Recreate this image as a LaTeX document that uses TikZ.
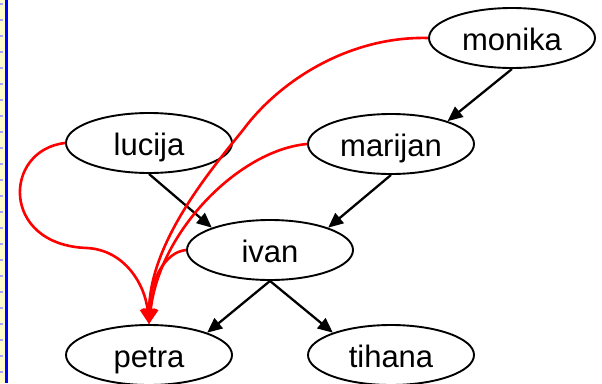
\documentclass[tikz,border=0pt]{standalone}
\usepackage{fontspec}
\setmainfont{Liberation Sans}
\usetikzlibrary{shapes.geometric,arrows.meta}
\begin{document}
\begin{tikzpicture}[x=1pt,y=-1pt,
  person/.style={ellipse,draw,line width=1.9pt,minimum width=166pt,minimum height=60pt,
    inner sep=0pt,font=\fontsize{31}{31}\selectfont,text height=24pt,text depth=0pt},
  link/.style={line width=2.3pt,-{Triangle[length=15pt,width=13pt]}},
  redlink/.style={red,line width=2.6pt,-{Triangle[length=15pt,width=15pt]}}]
\useasboundingbox (0,0) rectangle (602,383);
% margin strip on the left
\fill[yellow!20] (0,0) rectangle (5,383);
\draw[blue!35,line width=2.5pt,dash pattern=on 2pt off 14pt] (1.5,3) -- (1.5,383);
\fill[blue] (5,0) rectangle (7.5,383);

% people
\node[person] (monika)  at (512,38)  {monika};
\node[person] (lucija)  at (149,143) {lucija};
\node[person] (marijan) at (391,144) {marijan};
\node[person] (ivan)    at (270,250) {ivan};
\node[person] (petra)   at (149,355) {petra};
\node[person] (tihana)  at (391,355) {tihana};

% direct relations
\draw[link] (monika.south)  -- (marijan.22);
\draw[link] (lucija.south)  -- (ivan.159);
\draw[link] (marijan.south) -- (ivan.21);
\draw[link] (ivan.south)    -- (petra.21);
\draw[link] (ivan.south)    -- (tihana.159);

% derived relations to petra
\draw[redlink] (lucija.west) .. controls (3,150) and (0,245) .. (87,248)
  .. controls (125,250) and (145,285) .. (petra.north);
\draw[redlink] (monika.west) .. controls (350,36) and (280,80) .. (243,130)
  .. controls (215,165) and (150,240) .. (petra.north);
\draw[redlink] (marijan.west) .. controls (240,150) and (160,230) .. (petra.north);
\draw[redlink] (ivan.west) .. controls (165,252) and (150,280) .. (petra.north);
\end{tikzpicture}
\end{document}
